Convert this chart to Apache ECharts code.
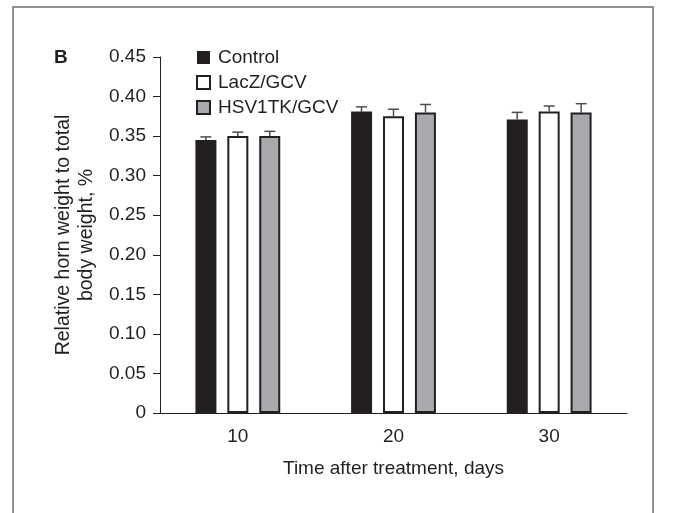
<!DOCTYPE html>
<html>
<head>
<meta charset="utf-8">
<script src="https://cdn.jsdelivr.net/npm/echarts@6/dist/echarts.min.js"></script>
<style>
  html, body { margin: 0; padding: 0; background: #fff; }
  #chart { width: 678px; height: 513px; }
</style>
</head>
<body>
<div id="chart"></div>
<script>
var days = ["10", "20", "30"];
var groups = ["Control", "LacZ/GCV", "HSV1TK/GCV"];
var control = [0.345, 0.381, 0.371];
var lacz = [0.350, 0.375, 0.381];
var hsv = [0.350, 0.380, 0.380];
var controlErr = [0.004, 0.006, 0.009];
var laczErr = [0.005, 0.009, 0.007];
var hsvErr = [0.006, 0.010, 0.011];
var yTicks = ["0", "0.05", "0.10", "0.15", "0.20", "0.25", "0.30", "0.35", "0.40", "0.45"];

var ink = "#231f20";
var fills = [ink, "#ffffff", "#a7a9ac"];
var values = [control, lacz, hsv];
var errs = [controlErr, laczErr, hsvErr];
var barW = 21, step = 32;
var font = "'Liberation Sans', sans-serif";

var chart = echarts.init(document.getElementById("chart"));

var series = [];
for (var s = 0; s < 3; s++) {
    series.push({
        name: groups[s],
        type: "bar",
        barWidth: barW,
        barGap: "52%",
        data: values[s],
        itemStyle: { color: fills[s], borderColor: ink, borderWidth: s === 0 ? 0 : 2 },
        emphasis: { disabled: true }
    });
}
// one-sided error bars
for (var s = 0; s < 3; s++) {
    (function (k) {
        var d = [];
        for (var i = 0; i < days.length; i++) d.push([i, values[k][i], values[k][i] + errs[k][i]]);
        series.push({
            type: "custom",
            silent: true,
            z: 1,
            data: d,
            renderItem: function (params, api) {
                var off = (k - 1) * step;
                var lo = api.coord([api.value(0), api.value(1)]);
                var hi = api.coord([api.value(0), api.value(2)]);
                var x = lo[0] + off;
                var st = { stroke: "#4d4d4f", lineWidth: 1.5 };
                return {
                    type: "group",
                    children: [
                        { type: "line", shape: { x1: x, y1: lo[1], x2: x, y2: hi[1] }, style: st },
                        { type: "line", shape: { x1: x - 5.5, y1: hi[1], x2: x + 5.5, y2: hi[1] }, style: st }
                    ]
                };
            }
        });
    })(s);
}

chart.setOption({
    animation: false,
    textStyle: { fontFamily: font },
    grid: { left: 160, right: 51, top: 57, bottom: 100 },
    legend: {
        data: groups,
        orient: "vertical",
        left: 191,
        top: 43,
        icon: "rect",
        itemWidth: 13,
        itemHeight: 13,
        itemGap: 6,
        textStyle: { fontSize: 19, lineHeight: 19, color: ink, fontFamily: font, padding: [0, 0, 0, 3] }
    },
    xAxis: {
        type: "category",
        data: days,
        name: "Time after treatment, days",
        nameLocation: "middle",
        nameGap: 46,
        nameTextStyle: { fontSize: 19, color: ink },
        axisLine: { lineStyle: { color: ink, width: 1 } },
        axisTick: { alignWithLabel: true, length: 6, lineStyle: { color: ink } },
        axisLabel: { fontSize: 19, color: ink, margin: 14 }
    },
    yAxis: {
        type: "value",
        min: 0,
        max: 0.45,
        interval: 0.05,
        name: "Relative horn weight to total\nbody weight, %",
        nameLocation: "middle",
        nameGap: 62,
        nameTextStyle: { fontSize: 19.5, color: ink, lineHeight: 23 },
        axisLine: { show: true, lineStyle: { color: ink, width: 1 } },
        axisTick: { show: true, length: 7, lineStyle: { color: ink } },
        splitLine: { show: false },
        axisLabel: {
            fontSize: 19,
            color: ink,
            margin: 14,
            formatter: function (v) { return yTicks[Math.round(v / 0.05)]; }
        }
    },
    graphic: [
        { type: "rect", shape: { x: 13, y: 7, width: 640, height: 520 }, style: { fill: null, stroke: "#6d6e71", lineWidth: 1.5 }, silent: true },
        { type: "text", left: 54, top: 48, style: { text: "B", font: "bold 19px " + font, fill: ink } }
    ],
    series: series
});
</script>
</body>
</html>
